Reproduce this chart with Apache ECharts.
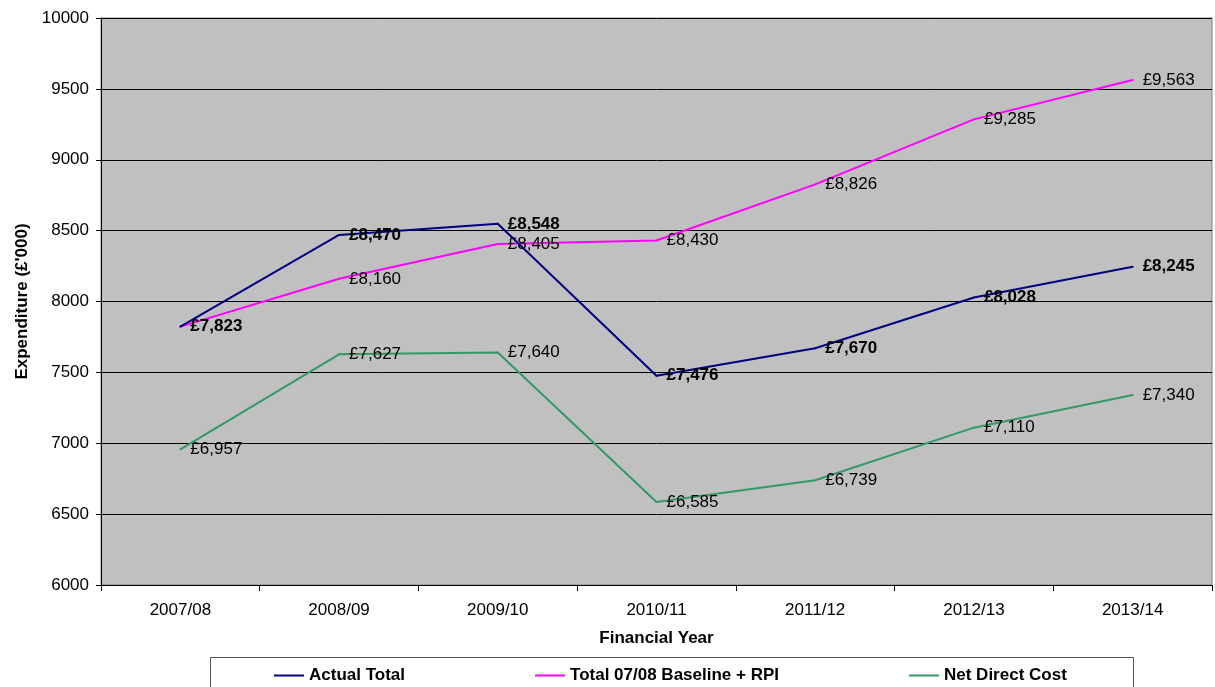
<!DOCTYPE html>
<html>
<head>
<meta charset="utf-8">
<script src="https://cdn.jsdelivr.net/npm/echarts@6/dist/echarts.min.js"></script>
<style>
html,body{margin:0;padding:0;background:#fff;}
#c{width:1215px;height:687px;}
</style>
</head>
<body>
<div id="c"></div>
<script>
const categories = ['2007/08','2008/09','2009/10','2010/11','2011/12','2012/13','2013/14'];
const actualTotal = [7823, 8470, 8548, 7476, 7670, 8028, 8245];
const baselineRPI = [7823, 8160, 8405, 8430, 8826, 9285, 9563];
const netDirectCost = [6957, 7627, 7640, 6585, 6739, 7110, 7340];
const seriesNames = ['Actual Total', 'Total 07/08 Baseline + RPI', 'Net Direct Cost'];

const FONT = 'Liberation Sans, Arial, sans-serif';
const fmt = v => '£' + v.toLocaleString('en-GB');

function lineSeries(name, data, color, z, bold) {
  return {
    name, type: 'line', data, z,
    symbol: 'circle', symbolSize: 2, showSymbol: true,
    lineStyle: { color, width: 2 },
    itemStyle: { color },
    label: { show: true, position: 'right', distance: 9, opacity: 1,
      formatter: p => fmt(p.value),
      fontFamily: FONT, fontSize: 17, fontWeight: bold ? 'bold' : 'normal', color: '#000' }
  };
}

const s2 = lineSeries(seriesNames[1],
  baselineRPI.map((v, i) => i === 0 ? { value: v, label: { show: false } } : v), '#FF00FF', 3, false);

const chart = echarts.init(document.getElementById('c'));
chart.setOption({
  animation: false,
  textStyle: { fontFamily: FONT },
  grid: {
    left: 101, top: 18, right: 3, bottom: 102,
    show: true, backgroundColor: '#C0C0C0', borderColor: '#808080', borderWidth: 1
  },
  legend: {
    left: 274, top: 667, padding: 0,
    itemGap: 130, itemWidth: 30, itemHeight: 2, icon: 'rect',
    textStyle: { fontFamily: FONT, fontSize: 17, fontWeight: 'bold', color: '#000' },
    data: [
      { name: seriesNames[0], itemStyle: { color: '#000080' } },
      { name: seriesNames[1], itemStyle: { color: '#FF00FF' } },
      { name: seriesNames[2], itemStyle: { color: '#339966' } }
    ]
  },
  graphic: [{
    type: 'rect', shape: { x: 210.5, y: 657.5, width: 923, height: 40 },
    style: { fill: 'none', stroke: '#555', lineWidth: 1 }, silent: true, z: -1
  }],
  xAxis: {
    type: 'category', data: categories, boundaryGap: true,
    name: 'Financial Year', nameLocation: 'middle', nameGap: 45,
    nameTextStyle: { fontFamily: FONT, fontSize: 17, fontWeight: 'bold', color: '#000' },
    axisLine: { lineStyle: { color: '#000', width: 1 } },
    axisTick: { show: true, interval: 0, length: 6, lineStyle: { color: '#000' } },
    axisLabel: { fontFamily: FONT, fontSize: 17, color: '#000', margin: 17, interval: 0 },
    splitLine: { show: false }
  },
  yAxis: {
    type: 'value', min: 6000, max: 10000, interval: 500,
    name: "Expenditure (£'000)", nameLocation: 'middle', nameGap: 69, nameRotate: 90,
    nameTextStyle: { fontFamily: FONT, fontSize: 17, fontWeight: 'bold', color: '#000' },
    axisLine: { show: true, lineStyle: { color: '#000', width: 1 } },
    axisTick: { show: true, length: 5, lineStyle: { color: '#000' } },
    axisLabel: { fontFamily: FONT, fontSize: 17, color: '#000', margin: 12, formatter: v => String(v) },
    splitLine: { show: true, lineStyle: { color: '#000', width: 1 } }
  },
  series: [
    lineSeries(seriesNames[0], actualTotal, '#000080', 4, true),
    s2,
    lineSeries(seriesNames[2], netDirectCost, '#339966', 2, false)
  ]
});
</script>
</body>
</html>
